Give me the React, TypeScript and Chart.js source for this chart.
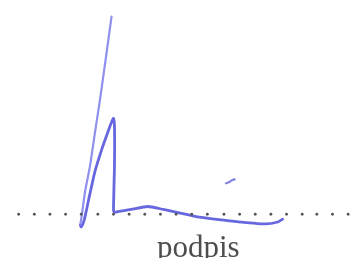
import React, { useEffect, useRef } from "react";
import { Chart, registerables } from "chart.js";

Chart.register(...registerables);

// Signature strokes (x: horizontal units, y: height above the dotted line)
const stroke1X = [110, 104, 98, 93, 88, 83, 80, 78];
const stroke1Y = [204, 160, 117, 84, 50, 24, 2, -11];
const stroke2X = [78, 79, 82, 87, 93, 100, 107, 110, 112, 113, 113, 112, 113, 118, 130, 147, 163, 177, 200, 233, 267, 280, 285];
const stroke2Y = [-11, -13, -6, 17, 44, 67, 87, 95, 99, 90, 50, 4, 2, 3, 5, 8, 5, 2, -3, -7, -10, -8, -5];
const markX = [227, 230, 233, 236];
const markY = [32, 33, 35, 36];
// Dotted signature line
const dotX = [15, 31, 47, 63, 79, 96, 112, 128, 144, 160, 176, 192, 208, 225, 241, 257, 273, 289, 305, 320, 336, 352];
const dotY = [0, 0, 0, 0, 0, 0, 0, 0, 0, 0, 0, 0, 0, 0, 0, 0, 0, 0, 0, 0, 0, 0];
const caption = "podpis";

const pts = (xs: number[], ys: number[]) => xs.map((x, i) => ({ x, y: ys[i] }));

export default function App() {
  const ref = useRef<HTMLCanvasElement | null>(null);
  useEffect(() => {
    if (!ref.current) return;
    const chart = new Chart(ref.current, {
      type: "scatter",
      data: {
        datasets: [
          {
            data: pts(dotX, dotY),
            pointRadius: 1.4,
            pointBackgroundColor: "#555555",
            pointBorderWidth: 0,
            showLine: false,
            clip: false,
          },
          {
            data: pts(stroke1X, stroke1Y),
            showLine: true,
            borderColor: "rgba(125,125,235,0.85)",
            borderWidth: 2.2,
            pointRadius: 0,
            tension: 0.2,
            borderCapStyle: "round",
            borderJoinStyle: "round",
            clip: false,
          },
          {
            data: pts(stroke2X, stroke2Y),
            showLine: true,
            borderColor: "rgba(95,95,222,0.95)",
            borderWidth: 2.8,
            pointRadius: 0,
            tension: 0.2,
            borderCapStyle: "round",
            borderJoinStyle: "round",
            clip: false,
          },
          {
            data: pts(markX, markY),
            showLine: true,
            borderColor: "rgba(110,110,225,0.85)",
            borderWidth: 2.2,
            pointRadius: 0,
            tension: 0.3,
            borderCapStyle: "round",
            clip: false,
          },
        ],
      },
      options: {
        animation: false,
        responsive: true,
        maintainAspectRatio: false,
        layout: { padding: 0 },
        plugins: { legend: { display: false }, tooltip: { enabled: false }, title: { display: false } },
        scales: {
          x: { type: "linear", min: 0, max: 358, display: false },
          y: { type: "linear", min: -41, max: 217, display: false },
        },
      },
    });
    return () => chart.destroy();
  }, []);
  return (
    <div style={{ position: "fixed", left: 0, top: 0, width: 358, height: 258, background: "#fff", overflow: "hidden" }}>
      <canvas ref={ref} />
      <div
        style={{
          position: "absolute",
          left: 157,
          top: 231,
          fontFamily: "'Liberation Serif', serif",
          fontSize: 31,
          lineHeight: "31px",
          color: "#4d4d4d",
          whiteSpace: "nowrap",
        }}
      >
        {caption}
      </div>
    </div>
  );
}
